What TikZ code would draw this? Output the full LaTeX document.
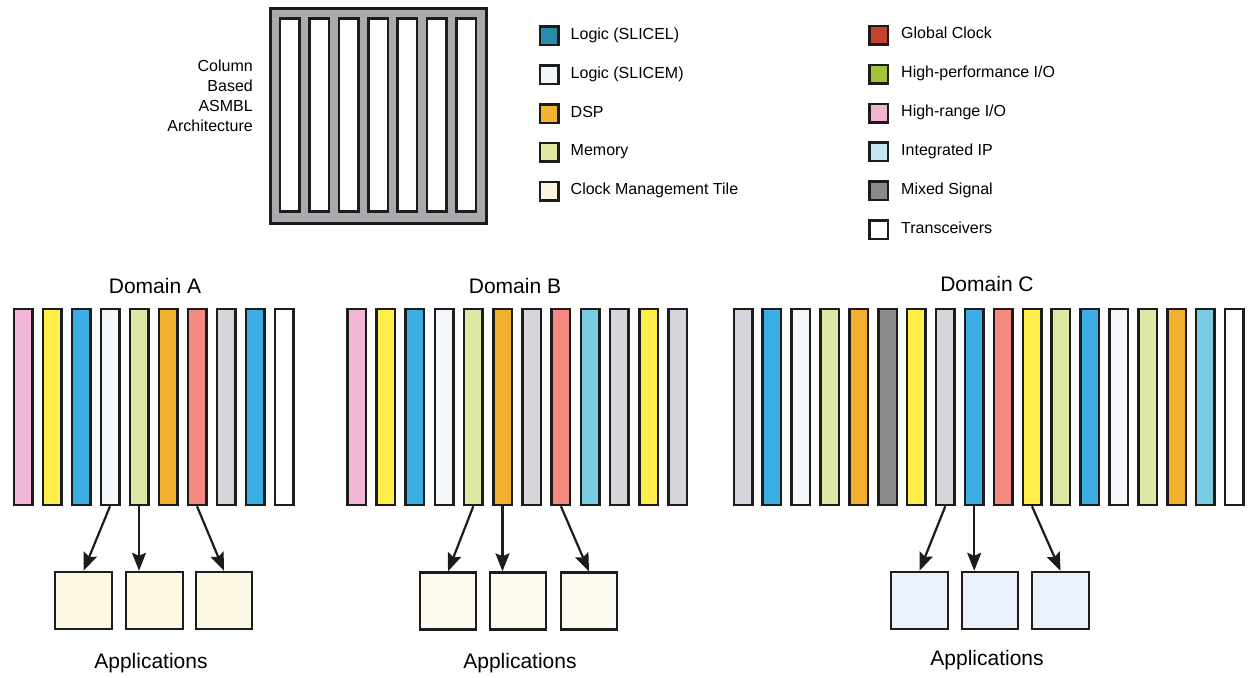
\documentclass[tikz,border=0pt]{standalone}
\usepackage{fontspec}
\setmainfont{Liberation Sans}
\usetikzlibrary{arrows.meta}
\definecolor{ink}{HTML}{1C1C1C}
\definecolor{frame}{HTML}{A9ABAF}
% legend colours
\definecolor{slicel}{HTML}{2A8CA8}
\definecolor{slicem}{HTML}{F2F5FA}
\definecolor{dsp}{HTML}{F4B62E}
\definecolor{mem}{HTML}{E0E8A2}
\definecolor{cmt}{HTML}{FBF7DC}
\definecolor{gclk}{HTML}{C8402E}
\definecolor{hpio}{HTML}{A4C43C}
\definecolor{hrio}{HTML}{F2B4D2}
\definecolor{iip}{HTML}{C4E8F2}
\definecolor{mixed}{HTML}{8A8A8A}
% column colours
\definecolor{cpink}{HTML}{F2B6D6}
\definecolor{cyel}{HTML}{FFEE4A}
\definecolor{cblue}{HTML}{3AAEE2}
\definecolor{cwhite}{HTML}{F4F7FB}
\definecolor{cgreen}{HTML}{DCE8A4}
\definecolor{corange}{HTML}{F2B030}
\definecolor{csalmon}{HTML}{F58A80}
\definecolor{cgrey}{HTML}{D4D6DC}
\definecolor{ccyan}{HTML}{7ACCE0}
\definecolor{cdark}{HTML}{8C8C8C}
\definecolor{appcream}{HTML}{FCF8E4}
\definecolor{appblue}{HTML}{EBF1FA}
\begin{document}
\begin{tikzpicture}[x=1pt, y=-1pt, >={Stealth[length=18pt,width=14pt,inset=3pt]},
  every node/.style={font=\fontsize{16}{20}\selectfont, inner sep=0pt},
  colbox/.style={draw=ink, line width=2.5pt, minimum width=18.5pt, minimum height=196pt},
  appbox/.style={draw=ink, line width=2.4pt, minimum width=56.5pt, minimum height=57pt},
  keybox/.style={draw=ink, line width=2.5pt, minimum size=18.5pt},
  domtitle/.style={font=\fontsize{21}{24}\selectfont},
  feedarrow/.style={->, draw=ink, line width=2.2pt}]
  \useasboundingbox (0,0) rectangle (1249,677);

  % ASMBL chip
  \node[draw=ink, line width=3pt, fill=frame, minimum width=216pt, minimum height=215pt] (chip) at (378.5,116) {};
  \foreach \i in {1,...,7}
    \node[draw=ink, line width=2.5pt, fill=white, minimum width=19.5pt, minimum height=193pt] (slot\i) at ({378+(\i-4)*29.4},115) {};
  \node[anchor=east, align=right] (asmbl) at (253,96) {Column\\Based\\ASMBL\\Architecture};

  % legend
  \foreach \c/\t [count=\i] in {slicel/{Logic (SLICEL)}, slicem/{Logic (SLICEM)}, dsp/DSP, mem/Memory, cmt/{Clock Management Tile}} {
    \node[keybox, fill=\c] (keyL\i) at (549,{36+(\i-1)*38.8}) {};
    \node[anchor=base west] (txtL\i) at ([xshift=11pt, yshift=-3.5pt]keyL\i.east) {\t};
  }
  \foreach \c/\t [count=\i] in {gclk/{Global Clock}, hpio/{High-performance I/O}, hrio/{High-range I/O}, iip/{Integrated IP}, mixed/{Mixed Signal}, white/Transceivers} {
    \node[keybox, fill=\c] (keyR\i) at (878.5,{35.5+(\i-1)*38.8}) {};
    \node[anchor=base west] (txtR\i) at ([xshift=12pt, yshift=-3.5pt]keyR\i.east) {\t};
  }

  % domain A
  \node[domtitle] (domA) at (155,286) {Domain A};
  \foreach \c [count=\i] in {cpink,cyel,cblue,cwhite,cgreen,corange,csalmon,cgrey,cblue,white}
    \node[colbox, fill=\c] (colA\i) at ({23+(\i-1)*29},407) {};
  \node[appbox, fill=appcream] (appA1) at (83.5,600.5) {};
  \node[appbox, fill=appcream] (appA2) at (154.5,600.5) {};
  \node[appbox, fill=appcream] (appA3) at (224,600.5) {};
  \draw[feedarrow] (colA4.south) -- (appA1.north);
  \draw[feedarrow] (colA5.south) -- (colA5.south |- appA2.north);
  \draw[feedarrow] (colA7.south) -- (appA3.north);
  \node[domtitle, anchor=base] (appsA) at (151,668) {Applications};

  % domain B
  \node[domtitle] (domB) at (515,286) {Domain B};
  \foreach \c [count=\i] in {cpink,cyel,cblue,cwhite,cgreen,corange,cgrey,csalmon,ccyan,cgrey,cyel,cgrey}
    \node[colbox, fill=\c] (colB\i) at ({356.5+(\i-1)*29.2},407) {};
  \node[appbox, fill=appcream!60] (appB1) at (448,601) {};
  \node[appbox, fill=appcream!60] (appB2) at (518,601) {};
  \node[appbox, fill=appcream!60] (appB3) at (589,601) {};
  \draw[feedarrow] (colB5.south) -- (appB1.north);
  \draw[feedarrow] (colB6.south) -- (colB6.south |- appB2.north);
  \draw[feedarrow] (colB8.south) -- (appB3.north);
  \node[domtitle, anchor=base] (appsB) at (520,668) {Applications};

  % domain C
  \node[domtitle] (domC) at (987,284) {Domain C};
  \foreach \c [count=\i] in {cgrey,cblue,cwhite,cgreen,corange,cdark,cyel,cgrey,cblue,csalmon,cyel,cgreen,cblue,cwhite,cgreen,corange,ccyan,white}
    \node[colbox, fill=\c] (colC\i) at ({743+(\i-1)*28.9},407) {};
  \node[appbox, fill=appblue] (appC1) at (919.5,600.5) {};
  \node[appbox, fill=appblue] (appC2) at (990,600.5) {};
  \node[appbox, fill=appblue] (appC3) at (1060.5,600.5) {};
  \draw[feedarrow] (colC8.south) -- (appC1.north);
  \draw[feedarrow] (colC9.south) -- (colC9.south |- appC2.north);
  \draw[feedarrow] (colC11.south) -- (appC3.north);
  \node[domtitle, anchor=base] (appsC) at (987,665) {Applications};
\end{tikzpicture}
\end{document}
